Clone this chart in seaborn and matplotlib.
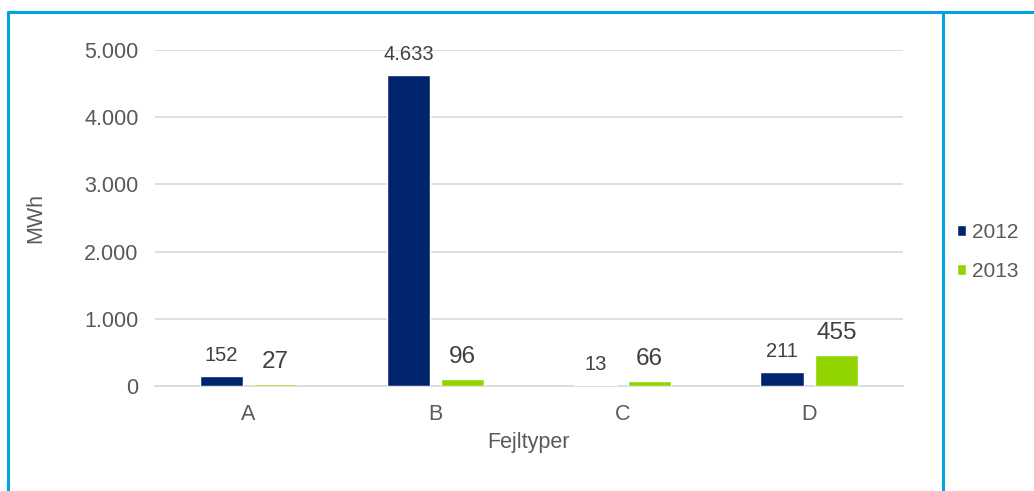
import matplotlib
matplotlib.use("Agg")
import matplotlib.pyplot as plt
import seaborn as sb
import pandas as pd
from matplotlib.lines import Line2D
from matplotlib.patches import Patch

# data
fejltyper = ["A", "B", "C", "D"]
years = ["2012", "2013"]
mwh_2012 = [152, 4633, 13, 211]
mwh_2013 = [27, 96, 66, 455]

navy = "#00256E"
green = "#92D400"
border = "#00A3E0"
text_grey = "#595959"


def dk(v):
    return f"{v:,.0f}".replace(",", ".")


data = pd.DataFrame({
    "Fejltyper": fejltyper * 2,
    "År": [years[0]] * 4 + [years[1]] * 4,
    "MWh": mwh_2012 + mwh_2013,
})

sb.set_style("white")
plt.rcParams["font.family"] = ["Liberation Sans", "DejaVu Sans"]

fig = plt.figure(figsize=(10.34, 4.91), dpi=100)
ax = fig.add_axes([0.150, 0.214, 0.723, 0.684])

sb.barplot(data=data, x="Fejltyper", y="MWh", hue="År", order=fejltyper,
           hue_order=years, palette=[navy, green], width=0.58, gap=0.2,
           ax=ax, legend=False, saturation=1)
for p in ax.patches:
    p.set_zorder(3)

ax.set_ylim(0, 5000)
ax.set_xlim(-0.5, 3.5)
ax.set_yticks(range(0, 5001, 1000))
ax.set_yticklabels([dk(v) for v in range(0, 5001, 1000)])
ax.yaxis.grid(True, color="#D9D9D9", linewidth=1.2)
ax.set_axisbelow(True)
for side in ["top", "right", "left"]:
    ax.spines[side].set_visible(False)
ax.spines["bottom"].set_color("#D9D9D9")
ax.spines["bottom"].set_linewidth(1.2)
ax.spines["bottom"].set_zorder(1)
ax.tick_params(axis="both", length=0, labelsize=15.5, colors=text_grey)
ax.tick_params(axis="y", pad=12)
ax.tick_params(axis="x", pad=13)
ax.set_xlabel("Fejltyper", fontsize=15.5, color=text_grey, labelpad=5)
ax.set_ylabel("MWh", fontsize=15.5, color=text_grey, labelpad=27)

# value labels
sizes = [14.5, 17.5]
for cont, size in zip(ax.containers, sizes):
    ax.bar_label(cont, labels=[dk(v) for v in cont.datavalues],
                 padding=8, fontsize=size, color="#404040")

# legend on the right panel
handles = [Patch(facecolor=navy), Patch(facecolor=green)]
leg = fig.legend(handles, years, loc="center left", bbox_to_anchor=(0.926, 0.487),
                 frameon=False, borderaxespad=0, borderpad=0,
                 handlelength=0.4, handleheight=0.4,
                 handletextpad=0.3, labelspacing=0.95, fontsize=15)
for t in leg.get_texts():
    t.set_color(text_grey)

# blue frame lines like the original slide box
fig.add_artist(Line2D([0.008, 1.0], [0.976, 0.976], color=border, lw=2.2))
fig.add_artist(Line2D([0.008, 0.008], [0.0, 0.976], color=border, lw=2.2))
fig.add_artist(Line2D([0.912, 0.912], [0.0, 0.976], color=border, lw=2.2))

fig.savefig("out.png", dpi=100)
plt.close(fig)
